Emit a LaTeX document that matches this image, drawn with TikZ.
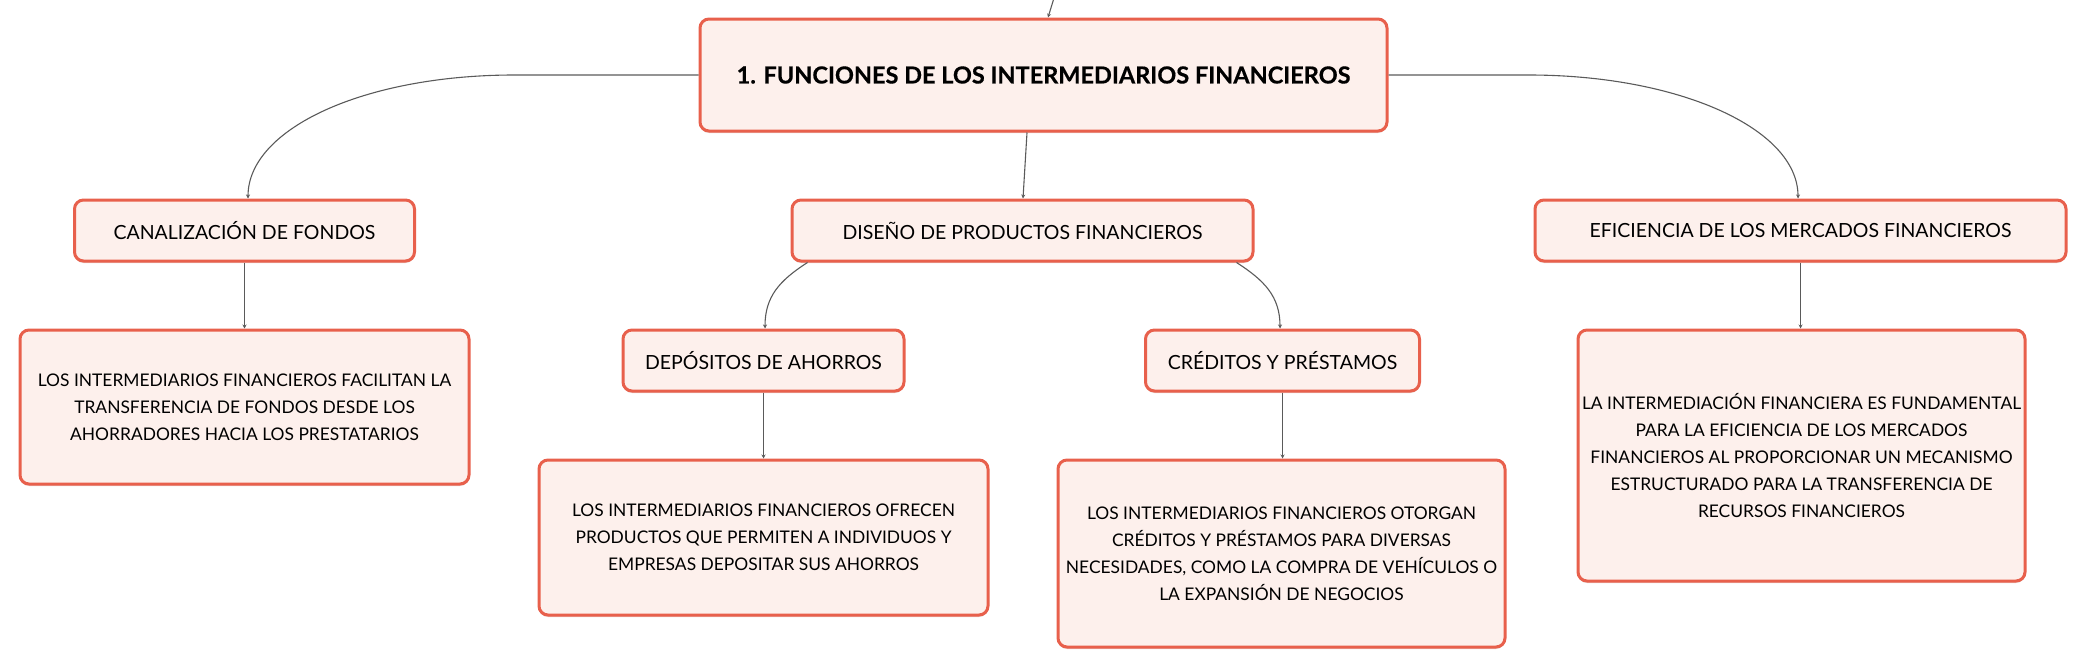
\documentclass[tikz,border=0pt]{standalone}
\usepackage{fontspec}
\setmainfont{Lato}
\newfontfamily\titlefont[BoldFeatures={FakeBold=0.5}]{Lato}
\usetikzlibrary{arrows.meta,shadows}
\definecolor{boxline}{HTML}{E8604C}
\definecolor{boxfill}{HTML}{FDF0EC}
\definecolor{conn}{HTML}{5A5A5A}
\tikzset{
  mbox/.style={draw=boxline, fill=boxfill, line width=3pt, rounded corners=9pt,
    inner sep=0pt, align=center, text=black,
    drop shadow={shadow xshift=0pt, shadow yshift=-2pt, opacity=0.25, fill=boxline!70!black},
    font=\fontsize{19.5}{27}\selectfont},
  detbox/.style={mbox, font=\fontsize{17.4}{27}\selectfont},
  titlebox/.style={mbox, font=\fontsize{23.5}{27}\selectfont\titlefont\bfseries},
  link/.style={draw=conn, line width=1.1pt, -{Stealth[length=4pt,width=4pt]}}
}
\begin{document}
\begin{tikzpicture}[x=1pt,y=-1pt]
\useasboundingbox (0,0) rectangle (2087,667);
% nodes
\node[titlebox, minimum width=687pt, minimum height=112pt] (title) at (1043.5,75) {1. FUNCIONES DE LOS INTERMEDIARIOS FINANCIEROS};
\node[mbox, minimum width=340pt, minimum height=61pt] (canal) at (244.5,230.5) {CANALIZACIÓN DE FONDOS};
\node[mbox, minimum width=461pt, minimum height=61pt] (diseno) at (1022.5,230.5) {DISEÑO DE PRODUCTOS FINANCIEROS};
\node[mbox, minimum width=531pt, minimum height=61pt] (efic) at (1800.5,230.5) {EFICIENCIA DE LOS MERCADOS FINANCIEROS};
\node[detbox, minimum width=449pt, minimum height=154pt] (canaldet) at (244.5,407) {LOS INTERMEDIARIOS FINANCIEROS FACILITAN LA\\TRANSFERENCIA DE FONDOS DESDE LOS\\AHORRADORES HACIA LOS PRESTATARIOS};
\node[mbox, minimum width=281pt, minimum height=61pt] (depos) at (763.5,360.5) {DEPÓSITOS DE AHORROS};
\node[mbox, minimum width=274pt, minimum height=61pt] (cred) at (1282.5,360.5) {CRÉDITOS Y PRÉSTAMOS};
\node[detbox, minimum width=449pt, minimum height=155pt] (deposdet) at (763.5,537.5) {LOS INTERMEDIARIOS FINANCIEROS OFRECEN\\PRODUCTOS QUE PERMITEN A INDIVIDUOS Y\\EMPRESAS DEPOSITAR SUS AHORROS};
\node[detbox, minimum width=447pt, minimum height=187pt] (creddet) at (1281.5,553.5) {LOS INTERMEDIARIOS FINANCIEROS OTORGAN\\CRÉDITOS Y PRÉSTAMOS PARA DIVERSAS\\NECESIDADES, COMO LA COMPRA DE VEHÍCULOS O\\LA EXPANSIÓN DE NEGOCIOS};
\node[detbox, minimum width=447pt, minimum height=251pt] (eficdet) at (1801.5,455.5) {LA INTERMEDIACIÓN FINANCIERA ES FUNDAMENTAL\\PARA LA EFICIENCIA DE LOS MERCADOS\\FINANCIEROS AL PROPORCIONAR UN MECANISMO\\ESTRUCTURADO PARA LA TRANSFERENCIA DE\\RECURSOS FINANCIEROS};
% connectors
\coordinate (topin) at (1054,-2);
\draw[link] (topin) -- ([xshift=4.5pt]title.north);
\draw[link] (title.west) -- ++(-184,0) .. controls +(-150,0) and ([xshift=3.5pt,yshift=70pt]canal.north) .. ([xshift=3.5pt]canal.north);
\draw[link] (title.east) -- ++(140,0) .. controls +(150,0) and ([xshift=-2.5pt,yshift=70pt]efic.north) .. ([xshift=-2.5pt]efic.north);
\draw[link] ([xshift=-16.5pt]title.south) -- ([xshift=0.5pt]diseno.south |- diseno.north);
\draw[link] ([xshift=-215pt]diseno.south) .. controls +(-28,18) and ([xshift=1.5pt,yshift=32pt]depos.north) .. ([xshift=1.5pt]depos.north);
\draw[link] ([xshift=214pt]diseno.south) .. controls +(28,18) and ([xshift=-2.5pt,yshift=32pt]cred.north) .. ([xshift=-2.5pt]cred.north);
\draw[link] (canal.south) -- (canal.south |- canaldet.north);
\draw[link] (depos.south) -- (depos.south |- deposdet.north);
\draw[link] (cred.south) -- (cred.south |- creddet.north);
\draw[link] (efic.south) -- (efic.south |- eficdet.north);
\end{tikzpicture}
\end{document}
